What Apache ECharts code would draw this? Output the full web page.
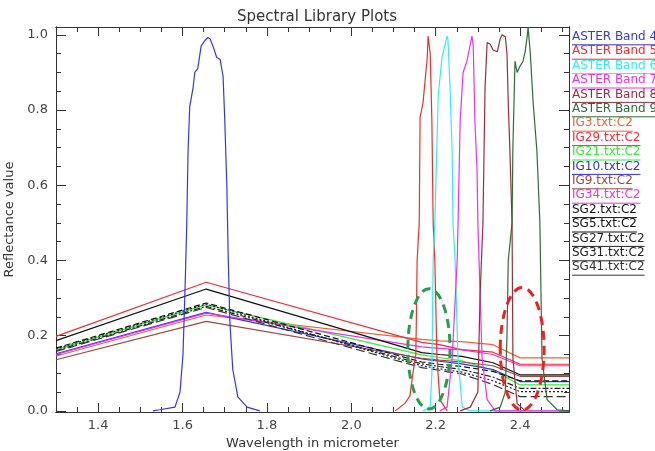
<!DOCTYPE html>
<html>
<head>
<meta charset="utf-8">
<script src="https://cdn.jsdelivr.net/npm/echarts@6/dist/echarts.min.js"></script>
<style>html,body{margin:0;padding:0;background:#fff}#main{width:655px;height:451px}</style>
</head>
<body>
<div id="main"></div>
<script>
// ---------- DATA ----------
const titleText = 'Spectral Library Plots';
const xName = 'Wavelength in micrometer';
const yName = 'Reflectance value';
const xTicks = [1.4, 1.6, 1.8, 2.0, 2.2, 2.4];
const yTicks = [0.0, 0.2, 0.4, 0.6, 0.8, 1.0];

// ASTER SWIR band spectral response curves
const band4Wl = [1.530,1.546,1.582,1.594,1.601,1.606,1.610,1.613,1.617,1.625,1.629,1.636,1.644,1.653,1.660,1.665,1.672,1.681,1.689,1.693,1.696,1.700,1.705,1.708,1.712,1.719,1.731,1.753,1.783];
const band4Val = [0,0.003,0.01,0.05,0.15,0.33,0.5,0.69,0.81,0.86,0.9,0.91,0.97,0.985,0.993,0.99,0.97,0.94,0.935,0.93,0.89,0.775,0.595,0.42,0.24,0.11,0.037,0.01,0];
const band5Wl = [2.104,2.127,2.139,2.146,2.153,2.156,2.161,2.163,2.170,2.180,2.182,2.187,2.191,2.194,2.198,2.203,2.210,2.227];
const band5Val = [0,0.02,0.04,0.1,0.15,0.4,0.5,0.78,0.82,0.94,0.997,0.95,0.77,0.5,0.4,0.14,0.03,0];
const band6Wl = [2.170,2.187,2.191,2.194,2.198,2.206,2.215,2.227,2.229,2.234,2.239,2.241,2.246,2.253,2.263,2.282,2.516];
const band6Val = [0,0.01,0.1,0.4,0.5,0.84,0.94,0.997,0.99,0.86,0.69,0.5,0.4,0.14,0.01,0,0];
const band7Wl = [2.210,2.227,2.239,2.251,2.253,2.258,2.265,2.274,2.286,2.289,2.293,2.298,2.300,2.310,2.322,2.341,2.516];
const band7Val = [0,0.01,0.14,0.4,0.5,0.77,0.9,0.93,0.997,0.97,0.77,0.64,0.5,0.14,0.03,0,0];
const band8Wl = [2.258,2.282,2.300,2.305,2.312,2.317,2.322,2.329,2.336,2.346,2.353,2.357,2.365,2.369,2.372,2.376,2.381,2.383,2.393,2.412];
const band8Val = [0,0.01,0.05,0.3,0.5,0.86,0.98,0.976,0.96,0.955,0.99,1.0,0.995,0.95,0.82,0.69,0.5,0.14,0.02,0];
const band9Wl = [2.329,2.353,2.365,2.369,2.372,2.381,2.383,2.388,2.393,2.400,2.407,2.412,2.417,2.419,2.424,2.431,2.440,2.447,2.452,2.464,2.488,2.516];
const band9Val = [0,0.01,0.05,0.2,0.4,0.5,0.7,0.93,0.9,0.917,0.93,0.955,0.997,1.02,0.955,0.82,0.69,0.5,0.14,0.03,0.003,0];

// Spectral library samples resampled to ASTER bands
const libWl = [1.300, 1.656, 2.167, 2.209, 2.262, 2.336, 2.400, 2.516];
const ig3  = [0.146, 0.255, 0.190, 0.186, 0.184, 0.176, 0.141, 0.141];
const ig29 = [0.198, 0.342, 0.182, 0.176, 0.163, 0.156, 0.124, 0.124];
const ig21 = [0.163, 0.282, 0.149, 0.142, 0.133, 0.108, 0.069, 0.069];
const ig10 = [0.152, 0.262, 0.138, 0.132, 0.125, 0.110, 0.078, 0.078];
const ig9  = [0.136, 0.238, 0.140, 0.135, 0.130, 0.120, 0.092, 0.092];
const ig34 = [0.150, 0.260, 0.170, 0.166, 0.162, 0.150, 0.120, 0.120];
const sg2  = [0.187, 0.324, 0.155, 0.150, 0.145, 0.128, 0.096, 0.096];
const sg5  = [0.167, 0.287, 0.130, 0.124, 0.118, 0.105, 0.080, 0.080];
const sg27 = [0.160, 0.278, 0.125, 0.118, 0.110, 0.090, 0.060, 0.060];
const sg31 = [0.165, 0.284, 0.120, 0.112, 0.103, 0.080, 0.051, 0.051];
const sg41 = [0.158, 0.275, 0.115, 0.108, 0.098, 0.070, 0.038, 0.038];

const seriesNames = ['ASTER Band 4','ASTER Band 5','ASTER Band 6','ASTER Band 7','ASTER Band 8','ASTER Band 9',
  'IG3.txt:C2','IG29.txt:C2','IG21.txt:C2','IG10.txt:C2','IG9.txt:C2','IG34.txt:C2',
  'SG2.txt:C2','SG5.txt:C2','SG27.txt:C2','SG31.txt:C2','SG41.txt:C2'];
const seriesWl = [band4Wl,band5Wl,band6Wl,band7Wl,band8Wl,band9Wl,libWl,libWl,libWl,libWl,libWl,libWl,libWl,libWl,libWl,libWl,libWl];
const seriesVal = [band4Val,band5Val,band6Val,band7Val,band8Val,band9Val,ig3,ig29,ig21,ig10,ig9,ig34,sg2,sg5,sg27,sg31,sg41];

// Annotation ellipses (data units): centre wavelength, centre value, radius x, radius y
const ellipseCx = [2.184, 2.405];
const ellipseCy = [0.165, 0.165];
const ellipseRx = [0.050, 0.052];
const ellipseRy = [0.160, 0.163];

// ---------- STYLE ----------
const colors = ['#3434ee','#f52a2a','#2ef0f0','#f02ef0','#9b2b3c','#2f6a3a',
  '#f5602e','#f52a3a','#33ee33','#2e2ef5','#a0463c','#f02ef0',
  '#111111','#111111','#222222','#222222','#333333'];
const dashes = ['solid','solid','solid','solid','solid','solid',
  'solid','solid','solid','solid','solid','solid',
  'solid',[6,3],[6,2,2,2],[2,2],[9,4]];
const ellipseColors = ['#22a04a','#f02020'];
const FONT = 'DejaVu Sans';
const XMIN = 1.3, XMAX = 2.516, YMIN = -0.003, YMAX = 1.021;

const xMinor = [], yMinor = [];
for (let i = 0; i <= 24; i++) xMinor.push(+(1.3 + i * 0.05).toFixed(2));
for (let i = 0; i <= 20; i++) yMinor.push(+(i * 0.05).toFixed(2));

const axisColor = '#333';
function mkX(pos, major, labels) {
  return {
    type: 'value', min: XMIN, max: XMAX, position: pos,
    axisLine: { show: true, onZero: false, lineStyle: { color: axisColor, width: 1 } },
    axisTick: { show: true, inside: true, length: major ? 9 : 5, customValues: major ? xTicks : xMinor, lineStyle: { color: axisColor } },
    axisLabel: labels ? { show: true, customValues: xTicks, formatter: v => v.toFixed(1), fontSize: 13, fontFamily: FONT, color: '#444', margin: 7 } : { show: false },
    splitLine: { show: false },
    name: labels ? xName : '', nameLocation: 'middle', nameGap: 23,
    nameTextStyle: { fontSize: 13, fontFamily: FONT, color: '#333' }
  };
}
function mkY(pos, major, labels) {
  return {
    type: 'value', min: YMIN, max: YMAX, position: pos,
    axisLine: { show: true, onZero: false, lineStyle: { color: axisColor, width: 1 } },
    axisTick: { show: true, inside: true, length: major ? 10 : 5, customValues: major ? yTicks : yMinor, lineStyle: { color: axisColor } },
    axisLabel: labels ? { show: true, customValues: yTicks, formatter: v => v.toFixed(1), fontSize: 13, fontFamily: FONT, color: '#444', margin: 8 } : { show: false },
    splitLine: { show: false },
    name: labels ? yName : '', nameLocation: 'middle', nameGap: 34,
    nameTextStyle: { fontSize: 13, fontFamily: FONT, color: '#333' }
  };
}

const series = seriesNames.map((n, i) => ({
  name: n, type: 'line', xAxisIndex: 0, yAxisIndex: 0,
  data: seriesWl[i].map((w, j) => [w, seriesVal[i][j]]),
  showSymbol: false, symbol: 'none', animation: false, clip: true,
  lineStyle: { color: colors[i], width: 1.2, type: dashes[i] },
  z: i < 6 ? 3 : 2
}));

const chart = echarts.init(document.getElementById('main'), null, { renderer: 'canvas' });
chart.setOption({
  animation: false,
  backgroundColor: '#fff',
  title: { text: titleText, left: 312, textAlign: 'center', top: 5, textStyle: { fontSize: 15, fontWeight: 'normal', fontFamily: FONT, color: '#333' } },
  grid: { left: 56, top: 27, width: 513, height: 385, containLabel: false, outerBoundsMode: 'none' },
  xAxis: [mkX('bottom', true, true), mkX('bottom', false, false), mkX('top', true, false), mkX('top', false, false)],
  yAxis: [mkY('left', true, true), mkY('left', false, false), mkY('right', true, false), mkY('right', false, false)],
  series: series
});

// legend drawn as underlined coloured text on the right
const LFONT = '12px ' + FONT;
const measure = document.createElement('canvas').getContext('2d');
measure.font = LFONT;
const graphics = [];
seriesNames.forEach((n, i) => {
  const y = 38.3 + i * 14.4;
  const w = measure.measureText(n).width;
  graphics.push({ type: 'text', left: 572, top: y - 7.5, style: { text: n, fill: colors[i], font: LFONT } });
  graphics.push({ type: 'line', shape: { x1: 572, y1: y + 6.5, x2: 572 + w, y2: y + 6.5 }, style: { stroke: colors[i], lineWidth: 1 } });
});
// dashed ellipses placed in data coordinates
ellipseCx.forEach((cx, i) => {
  const c = chart.convertToPixel({ xAxisIndex: 0, yAxisIndex: 0 }, [cx, ellipseCy[i]]);
  const e = chart.convertToPixel({ xAxisIndex: 0, yAxisIndex: 0 }, [cx + ellipseRx[i], ellipseCy[i] + ellipseRy[i]]);
  graphics.push({ type: 'ellipse', shape: { cx: c[0], cy: c[1], rx: Math.abs(e[0] - c[0]), ry: Math.abs(c[1] - e[1]) },
    style: { fill: null, stroke: ellipseColors[i], lineWidth: 3, lineDash: [9, 6] }, z: 10 });
});
chart.setOption({ graphic: graphics });
</script>
</body>
</html>
